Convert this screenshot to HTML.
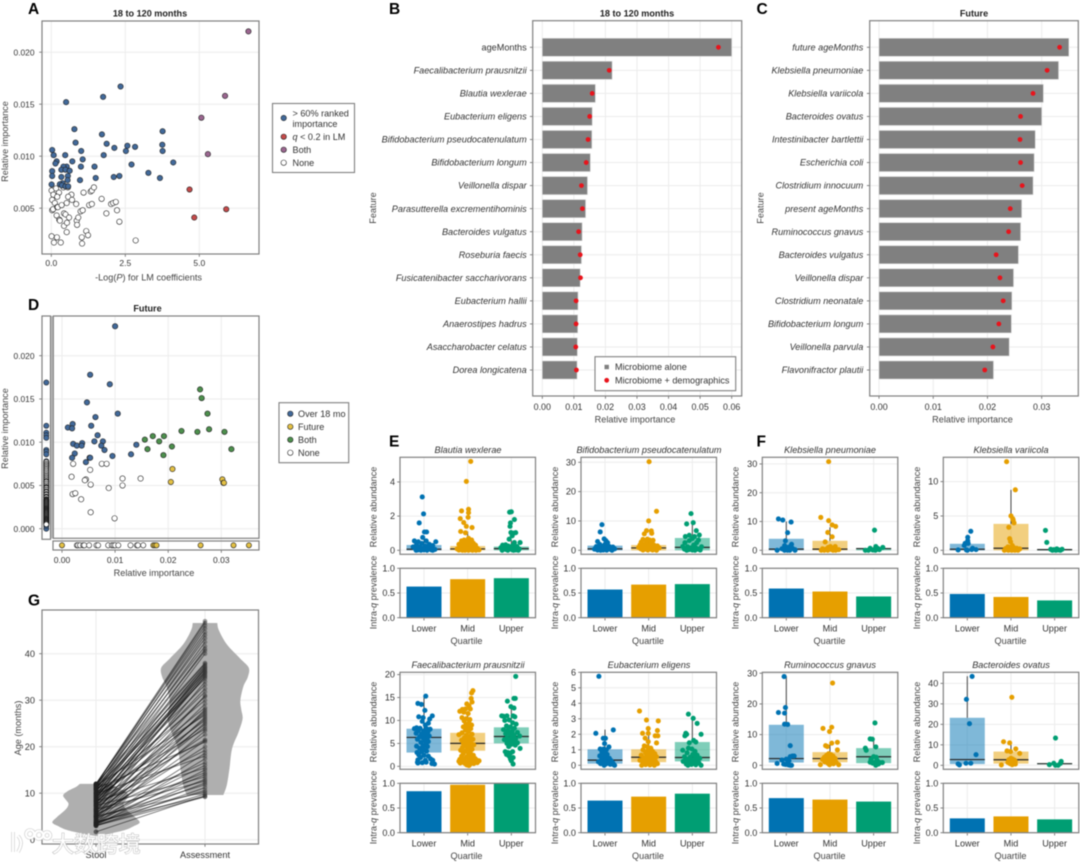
<!DOCTYPE html>
<html lang="en">
<head>
<meta charset="utf-8">
<title>Relative importance figure</title>
<style>
html,body{margin:0;padding:0;background:#fff;width:1080px;height:862px;overflow:hidden}
svg{display:block;filter:blur(.45px)}
text{font-family:"Liberation Sans","Noto Sans CJK SC",sans-serif;fill:#333;font-size:9.1px}
.ttl{font-weight:700;font-size:9.1px;text-anchor:middle;fill:#222}
.lab{text-anchor:middle;fill:#444;font-size:9.15px}
.sp{font-style:italic;font-size:9.15px;text-anchor:middle;fill:#333}
.let{font-weight:700;font-size:15.5px;fill:#000}
.leg{font-size:9.1px;fill:#333}
</style>
</head>
<body>
<svg id="figure" width="1080" height="862" viewBox="0 0 1080 862" xmlns="http://www.w3.org/2000/svg">
  <rect width="1080" height="862" fill="#fff"/>
  <g id="plot-a"></g>
  <g id="plot-b"></g>
  <g id="plot-c"></g>
  <g id="plot-d"></g>
  <g id="plot-g"></g>
  <g id="plot-ef"></g>

  <g>
    <text class="let" x="28" y="14">A</text>
    <text class="let" x="389" y="14">B</text>
    <text class="let" x="756.5" y="14">C</text>
    <text class="let" x="28" y="310">D</text>
    <text class="let" x="389" y="446.5">E</text>
    <text class="let" x="756.5" y="446.5">F</text>
    <text class="let" x="28" y="605.5">G</text>
  </g>

  <g>
    <text class="ttl" x="150" y="16.5">18 to 120 months</text>
    <text class="lab" x="148.5" y="280.5">-Log(<tspan font-style="italic">P</tspan>) for LM coefficients</text>
    <text class="lab" transform="translate(8,141.5) rotate(-90)">Relative importance</text>

    <text class="ttl" x="637" y="16.5">18 to 120 months</text>
    <text class="lab" x="635" y="422.5">Relative importance</text>
    <text class="lab" transform="translate(376,208) rotate(-90)">Feature</text>

    <text class="ttl" x="974" y="16.5">Future</text>
    <text class="lab" x="972.5" y="422.5">Relative importance</text>
    <text class="lab" transform="translate(763.5,208) rotate(-90)">Feature</text>

    <text class="ttl" x="147.5" y="311.5">Future</text>
    <text class="lab" x="154" y="576">Relative importance</text>
    <text class="lab" transform="translate(8,428.5) rotate(-90)">Relative importance</text>

    <text class="lab" transform="translate(21,728) rotate(-90)">Age (months)</text>

    <text class="sp" x="468" y="453">Blautia wexlerae</text>
    <text class="sp" x="649" y="453">Bifidobacterium pseudocatenulatum</text>
    <text class="sp" x="830" y="453">Klebsiella pneumoniae</text>
    <text class="sp" x="1011" y="453">Klebsiella variicola</text>
    <text class="sp" x="468" y="668">Faecalibacterium prausnitzii</text>
    <text class="sp" x="649" y="668">Eubacterium eligens</text>
    <text class="sp" x="830" y="668">Ruminococcus gnavus</text>
    <text class="sp" x="1011" y="668">Bacteroides ovatus</text>

    <text class="lab" transform="translate(376.5,507) rotate(-90)">Relative abundance</text>
    <text class="lab" transform="translate(558,507) rotate(-90)">Relative abundance</text>
    <text class="lab" transform="translate(738.5,507) rotate(-90)">Relative abundance</text>
    <text class="lab" transform="translate(920,507) rotate(-90)">Relative abundance</text>
    <text class="lab" transform="translate(376.5,722) rotate(-90)">Relative abundance</text>
    <text class="lab" transform="translate(558,722) rotate(-90)">Relative abundance</text>
    <text class="lab" transform="translate(738.5,722) rotate(-90)">Relative abundance</text>
    <text class="lab" transform="translate(920,722) rotate(-90)">Relative abundance</text>

    <text class="lab" transform="translate(376.5,592.5) rotate(-90)">Intra-<tspan font-style="italic">q</tspan> prevalence</text>
    <text class="lab" transform="translate(558,592.5) rotate(-90)">Intra-<tspan font-style="italic">q</tspan> prevalence</text>
    <text class="lab" transform="translate(738.5,592.5) rotate(-90)">Intra-<tspan font-style="italic">q</tspan> prevalence</text>
    <text class="lab" transform="translate(920,592.5) rotate(-90)">Intra-<tspan font-style="italic">q</tspan> prevalence</text>
    <text class="lab" transform="translate(376.5,807.5) rotate(-90)">Intra-<tspan font-style="italic">q</tspan> prevalence</text>
    <text class="lab" transform="translate(558,807.5) rotate(-90)">Intra-<tspan font-style="italic">q</tspan> prevalence</text>
    <text class="lab" transform="translate(738.5,807.5) rotate(-90)">Intra-<tspan font-style="italic">q</tspan> prevalence</text>
    <text class="lab" transform="translate(920,807.5) rotate(-90)">Intra-<tspan font-style="italic">q</tspan> prevalence</text>

    <text class="lab" x="466.5" y="644">Quartile</text>
    <text class="lab" x="648" y="644">Quartile</text>
    <text class="lab" x="829.5" y="644">Quartile</text>
    <text class="lab" x="1010.5" y="644">Quartile</text>
    <text class="lab" x="466.5" y="859">Quartile</text>
    <text class="lab" x="648" y="859">Quartile</text>
    <text class="lab" x="829.5" y="859">Quartile</text>
    <text class="lab" x="1010.5" y="859">Quartile</text>
  </g>

  <g>
    <rect x="272.5" y="103.5" width="82" height="69" fill="#fff" stroke="#808080" stroke-width="1.1"/>
    <circle cx="283.7" cy="118" r="2.7" fill="#41699a" stroke="#222" stroke-width=".6"/>
    <text class="leg" x="292.5" y="116.3">&gt; 60% ranked</text>
    <text class="leg" x="292.5" y="127">importance</text>
    <circle cx="283.7" cy="136.7" r="2.7" fill="#c44a4a" stroke="#222" stroke-width=".6"/>
    <text class="leg" x="292.5" y="139.8"><tspan font-style="italic">q</tspan> &lt; 0.2 in LM</text>
    <circle cx="283.7" cy="149.7" r="2.7" fill="#9b6690" stroke="#222" stroke-width=".6"/>
    <text class="leg" x="292.5" y="152.8">Both</text>
    <circle cx="283.7" cy="162.7" r="2.7" fill="#fff" stroke="#222" stroke-width=".6"/>
    <text class="leg" x="292.5" y="165.8">None</text>
  </g>

  <g>
    <rect x="595" y="356.7" width="140.7" height="34" fill="#fff" stroke="#808080" stroke-width="1.1"/>
    <rect x="604.5" y="364.8" width="4.4" height="4.4" fill="#808080"/>
    <text class="leg" x="615" y="370">Microbiome alone</text>
    <circle cx="606.7" cy="380.3" r="2.4" fill="#e8141c"/>
    <text class="leg" x="615" y="383.4">Microbiome + demographics</text>
  </g>

  <g>
    <rect x="279" y="402.7" width="69.7" height="60" fill="#fff" stroke="#808080" stroke-width="1.1"/>
    <circle cx="290.3" cy="413.7" r="2.7" fill="#41699a" stroke="#222" stroke-width=".6"/>
    <text class="leg" x="298" y="416.8">Over 18 mo</text>
    <circle cx="290.3" cy="426.7" r="2.7" fill="#e3c044" stroke="#222" stroke-width=".6"/>
    <text class="leg" x="298" y="429.8">Future</text>
    <circle cx="290.3" cy="439.7" r="2.7" fill="#4c8f4c" stroke="#222" stroke-width=".6"/>
    <text class="leg" x="298" y="442.8">Both</text>
    <circle cx="290.3" cy="452.7" r="2.7" fill="#fff" stroke="#222" stroke-width=".6"/>
    <text class="leg" x="298" y="455.8">None</text>
  </g>

  <g>
    <path d="M13 832 L13 852 M18 836 Q24 842 18 852 M30 830 a4 4 0 1 0 .1 0 M39 831 a4 4 0 1 0 .1 0 M47 832 a3.4 3.4 0 1 0 .1 0" fill="none" stroke="#c4c4c4" stroke-width="3.6" opacity=".8"/>
    <path d="M13 832 L13 852 M18 836 Q24 842 18 852 M30 830 a4 4 0 1 0 .1 0 M39 831 a4 4 0 1 0 .1 0 M47 832 a3.4 3.4 0 1 0 .1 0" fill="none" stroke="#fff" stroke-width="2.2"/>
    <text x="52" y="852" style="font-family:'Liberation Sans','Noto Sans CJK SC',sans-serif;font-size:22px;fill:#fff;stroke:#c0c0c0;stroke-width:1.1px;paint-order:stroke;letter-spacing:.2px">大数跨境</text>
  </g>
</svg>

<script>
/* ---------- Panel A data: [-log(P), relative importance] ---------- */
const aRanked = [[.03,.0106],[.08,.0101],[.18,.0095],[.14,.0093],[.03,.00856],[.03,.0081],[.01,.00728],[.5,.0152],[1.75,.0157],[2.34,.0167],[.78,.0126],[.82,.0113],[1.71,.0121],[1.87,.0112],[2.13,.0108],[2.57,.011],[2.52,.0105],[2.83,.0109],[1.77,.0101],[1.01,.0105],[1.06,.0097],[.47,.0101],[1,.009],[1.46,.009],[.71,.0095],[.52,.009],[.41,.009],[.34,.0087],[.48,.0087],[.62,.0086],[.56,.0081],[.34,.008],[.97,.0077],[1.5,.0079],[2.11,.008],[2.3,.0081],[2.71,.0092],[3.28,.0084],[3.67,.0079],[4.12,.0094],[3.76,.0124],[3.75,.0111],[3.76,.0105],[.55,.0077],[.38,.0074],[.29,.0073],[.36,.0072],[.48,.0071],[.57,.0071]];
const aLm = [[4.67,.0068],[4.83,.0041],[5.91,.0049]];
const aBoth = [[6.66,.022],[5.87,.0158],[5.07,.0137],[5.29,.0102]];
const aNone = [[.01,.0067],[.16,.0069],[.26,.0065],[.07,.0063],[.03,.0058],[.2,.0061],[.12,.0055],[.03,.0048],[.06,.0049],[.2,.0051],[.22,.0051],[.18,.0043],[.27,.0039],[.29,.0038],[.35,.0053],[.43,.0045],[.48,.0044],[.6,.0041],[.43,.0033],[.53,.0036],[.52,.0027],[.01,.0023],[.19,.0022],[.09,.0017],[.32,.0017],[1.03,.0022],[1.04,.0016],[1.18,.0028],[1.24,.0024],[.86,.0038],[.87,.0034],[.91,.0041],[.99,.0047],[1.06,.0048],[.84,.0054],[.68,.0063],[.57,.0061],[.7,.0058],[.52,.0055],[1.09,.0065],[1.33,.0066],[1.37,.0067],[1.44,.007],[1.28,.0053],[1.37,.0054],[1.7,.0059],[1.86,.0045],[2.02,.0054],[2.09,.0055],[2.18,.0056],[2.22,.0048],[2.3,.0037],[2.85,.0019],[.56,.007],[.41,.007]];
const aXTicks = [0,2.5,5];
const aXLabels = ["0.0","2.5","5.0"];
const aYTicks = [.005,.01,.015,.02];
const aYLabels = ["0.005","0.010","0.015","0.020"];

/* ---------- Panel B data ---------- */
const bFeatures = ["ageMonths","Faecalibacterium prausnitzii","Blautia wexlerae","Eubacterium eligens","Bifidobacterium pseudocatenulatum","Bifidobacterium longum","Veillonella dispar","Parasutterella excrementihominis","Bacteroides vulgatus","Roseburia faecis","Fusicatenibacter saccharivorans","Eubacterium hallii","Anaerostipes hadrus","Asaccharobacter celatus","Dorea longicatena"];
const bAlone = [.06,.0221,.0168,.0158,.0157,.0152,.0143,.0137,.0126,.0124,.012,.0113,.0112,.0111,.011];
const bDemo = [.0558,.0212,.0158,.015,.0145,.0139,.0124,.0127,.0115,.012,.0121,.0107,.0107,.0106,.0108];
const bXTicks = [0,.01,.02,.03,.04,.05,.06];
const bXLabels = ["0.00","0.01","0.02","0.03","0.04","0.05","0.06"];

/* ---------- Panel C data ---------- */
const cFeatures = ["future ageMonths","Klebsiella pneumoniae","Klebsiella variicola","Bacteroides ovatus","Intestinibacter bartlettii","Escherichia coli","Clostridium innocuum","present ageMonths","Ruminococcus gnavus","Bacteroides vulgatus","Veillonella dispar","Clostridium neonatale","Bifidobacterium longum","Veillonella parvula","Flavonifractor plautii"];
const cAlone = [.035,.0331,.0303,.03,.0288,.0286,.0284,.0263,.0261,.0257,.0248,.0245,.0244,.024,.0211];
const cDemo = [.0333,.031,.0284,.0261,.026,.0261,.0264,.0242,.0239,.0216,.0223,.0229,.0221,.021,.0195];
const cXTicks = [0,.01,.02,.03];
const cXLabels = ["0.00","0.01","0.02","0.03"];

/* ---------- Panel D data: [future importance, present importance] ---------- */
const dOver = [[.01,.0234],[.0053,.0178],[.009,.0167],[.0047,.0146],[.0105,.0133],[.0063,.0129],[.0055,.0119],[.002,.0121],[.0011,.0117],[.0019,.0116],[.0067,.0108],[.0061,.0101],[.0077,.0101],[.0038,.0099],[.0021,.0098],[.0028,.0096],[.0037,.0096],[.0074,.0096],[.008,.0091],[.014,.0097],[.0024,.0087],[.0019,.0082],[.0095,.0084],[.013,.0086],[.0052,.0082],[.0053,.0082],[.0045,.0077]];
const dBoth = [[.026,.0161],[.0263,.0151],[.0274,.0133],[.0277,.0115],[.0255,.0112],[.0225,.0113],[.0306,.0112],[.0171,.0107],[.0192,.0107],[.0156,.0103],[.0183,.0101],[.0161,.0092],[.0207,.0095],[.0191,.0085],[.0319,.0092]];
const dFuture = [[.0208,.0069],[.0205,.0054],[.0302,.0057],[.0304,.0053],[.0305,.0053]];
const dNone = [[.0021,.0075],[.0075,.0075],[.0084,.0075],[.0053,.0068],[.0018,.006],[.0045,.0057],[.0043,.0056],[.0114,.0058],[.0148,.0058],[.0054,.0051],[.0114,.005],[.0088,.0047],[.002,.004],[.0025,.0041],[.0036,.0034],[.0054,.0019],[.0099,.0012]];
const dStripYOver = [.0169,.0119,.0111,.0108,.0105,.0091,.0089,.0086,.0078,.0076,.0074,.0072,.0,.0003];
const dStripYNone = [.0077,.0075,.0073,.0071,.0069,.0067,.0065,.0063,.0061,.0059,.0057,.0055,.0054,.0052,.005,.0048,.0047,.0045,.0043,.0042,.004,.0039,.0037,.0036,.0034,.0033,.0032,.0031,.003,.0029,.0028,.0027,.0026,.0025,.0024,.0023,.0022,.0021,.002,.0019,.0018,.0017,.0016,.0015,.0014,.0013,.0012,.0011,.001,.0009,.0008,.0007,.0006,.0005];
const dStripXFuture = [0,.0172,.0175,.0178,.0261,.0323,.0352];
const dStripXNone = [.0028,.003,.0034,.004,.0042,.0051,.0065,.0068,.0087,.0094,.0097,.01,.0106,.0129,.0141,.0143,.0153];
const dXTicks = [0,.01,.02,.03];
const dXLabels = ["0.00","0.01","0.02","0.03"];
const dYTicks = [0,.005,.01,.015,.02];
const dYLabels = ["0.000","0.005","0.010","0.015","0.020"];

/* ---------- Panel G data ---------- */
const stoolViolinAge = [12,11.4,10.6,9.6,8.7,7.8,6.9,6,4.8,3.7,2.9,2.1,1.4,1,.8];
const stoolViolinDensity = [.37,.45,.62,.75,.7,.63,.66,.75,.9,1,.86,.67,.37,.14,.02];
const assessViolinAge = [46.6,45,42,39,37,35,33,30,28,26,23.2,19.6,15.3,11.8,9.6];
const assessViolinDensity = [.28,.32,.5,.8,1,.98,.88,.81,.83,.86,.77,.62,.56,.5,.42];
const stoolAge = [12,11.8,11.9,11.3,12,10.8,11.5,10.2,11.7,9.5,10.9,8.8,12,11.4,9.8,10.6,7.6,11,9,8.2,10.4,6.8,9.4,7.2,8.5,11.2,6,10,7.9,9.2,5.4,8,10.7,6.4,9.6,5,7.4,8.7,11.6,4.6,6.6,9.1,4.2,7,5.7,10.1,3.8,6.2,8.4,4.9,11,5.2,7.7,3.6,9.9,3.4,6,4.4,8.3,3.2,5.6,4.1,7.3,3.5,6.5,3.3,4.8,3,3.7,5.1,3.1,1.7,3.9,3];
const assessAge = [47,46.6,46,45.4,44.6,44,43.3,42.5,41.6,41,40.6,40,38,37.8,37.5,37.2,37,36.7,36.5,36.2,36,35.8,35.5,35.2,35,34.6,34,33.3,32.5,31.8,31,30.8,30,29.2,28.4,28,27.6,27.2,26.8,26.4,26,25.6,25.2,24.8,24.3,23.8,23.4,22.6,21.5,21.3,21,20,19.2,18.6,18,17.4,16.6,16,15.4,15,14.4,14,13.5,13,12.6,12.2,11.8,11.2,10.6,10.2,9.8,9.5,9.3,9.2];
const gYTicks = [0,10,20,30,40];
const gXLabels = ["Stool","Assessment"];

/* ---------- Panels E/F data: points are [jitter, abundance] ---------- */
const categories = ["Lower","Mid","Upper"];

const blautiaLower = [[-.04,3.12],[-.01,2.13],[-.11,1.6],[.01,1.07],[.06,1.07],[-.03,.75],[-.22,.55],[-.13,.5],[.05,.55],[.27,.5],[-.17,.35],[-.05,.4],[.12,.35],[.2,.28],[-.25,.2],[-.1,.2],[.03,.25],[.15,.15],[-.2,.1],[-.03,.1],[.09,.08],[.25,.05],[-.14,.02],[0,.02],[.17,.02],[-.07,0],[.07,0],[.2,0],[-.18,0]];
const blautiaMid = [[.07,5.2],[-.03,4.03],[-.14,2.3],[.02,2.4],[.02,2.2],[.01,1.93],[-.17,1.85],[-.09,1.62],[-.03,1.4],[.1,1.33],[-.16,1.1],[-.05,1.02],[.02,.7],[-.08,.6],[.09,.6],[-.14,.55],[.04,.5],[-.02,.45],[.13,.42],[-.2,.35],[-.1,.33],[.07,.3],[.18,.3],[-.05,.25],[.02,.22],[.12,.2],[-.16,.18],[-.08,.15],[.22,.12],[.05,.12],[-.24,.08],[-.02,.08],[.15,.06],[-.13,.04],[.08,.04],[.26,.02],[-.2,.01],[-.06,0],[.02,0],[.11,0],[.19,0],[-.12,0]];
const blautiaUpper = [[-.04,2.23],[.0,2.25],[-.02,1.6],[.07,1.8],[-.03,1.4],[-.01,1.04],[.05,1.0],[.1,1.03],[.02,.85],[-.05,.65],[.07,.45],[.2,.45],[-.2,.3],[-.13,.32],[-.07,.25],[.03,.28],[.13,.22],[-.24,.15],[-.16,.12],[-.03,.1],[.09,.1],[.18,.08],[-.12,.04],[.02,.03],[.1,.02],[-.21,0],[-.08,0],[.05,0],[.16,0]];

const bifidoLower = [[-.07,8.75],[-.11,6.25],[-.17,3],[-.02,3.9],[.02,3.3],[.06,2.6],[-.12,2],[.0,2],[-.2,1.3],[-.06,1.4],[.1,1.3],[.18,1.1],[-.14,.8],[-.02,.9],[.06,.7],[.22,.5],[-.24,.4],[-.09,.4],[.13,.3],[-.17,.1],[-.04,.1],[.04,.05],[.16,0],[-.1,0]];
const bifidoMid = [[.01,30.2],[.18,13.3],[0,10],[-.05,6.7],[.06,6.6],[-.1,5.6],[.07,5.8],[-.13,3.7],[-.03,3.8],[.02,3.5],[.1,3.4],[-.17,2.8],[-.06,2.5],[.05,2.4],[-.2,1.8],[-.1,1.7],[.12,1.8],[.2,1.5],[.0,1.6],[-.23,1],[-.14,1],[-.04,1],[.07,.9],[.24,.8],[-.18,.5],[-.08,.4],[.03,.4],[.14,.4],[-.13,.1],[-.02,.1],[.09,.1],[.18,0]];
const bifidoUpper = [[-.03,12.5],[-.13,9],[.02,9.4],[.09,6.7],[-.07,5.1],[.05,4.7],[.16,5.2],[-.16,4.7],[.14,3.5],[-.17,2.6],[0,4],[-.07,3.3],[.1,2.6],[.03,1.8],[-.22,1.3],[-.11,1.2],[.21,1.2],[.07,1],[-.04,.8],[-.18,.4],[.13,.4],[-.08,.2],[.0,.1],[.18,.1],[-.13,0],[.06,0]];

const kpLower = [[-.18,10.9],[-.08,10.5],[.11,9.8],[.03,6.1],[-.02,3.3],[.12,2.1],[-.04,1.6],[.08,1.2],[.02,1],[.14,.7],[-.1,.5],[.2,.2],[-.21,0],[-.04,0],[.03,0],[.08,0],[.2,0]];
const kpMid = [[-.03,30.8],[-.21,11.4],[-.03,10.3],[.05,8.8],[.13,8.3],[-.05,6.2],[.05,4.7],[-.11,2.9],[.12,1.3],[.01,1.3],[-.04,1],[.09,.8],[-.17,.5],[-.09,.4],[.03,.3],[.2,.2],[-.2,0],[-.13,0],[-.05,0],[.07,0],[.13,0]];
const kpUpper = [[.02,7],[.05,1.3],[.21,1],[-.08,.7],[.1,.6],[-.19,0],[-.02,.1],[.13,.2],[-.12,0],[.04,0]];

const kvLower = [[.08,2.77],[.01,1.9],[.01,1.4],[-.05,1],[.02,1],[-.07,.7],[.12,.3],[-.21,.05],[-.02,.05],[.1,.1],[.2,.1],[.0,0]];
const kvMid = [[-.1,12.9],[.1,8.8],[0,5],[.04,4.6],[.05,4.4],[.07,4],[-.05,3.35],[-.03,1.7],[-.01,1.25],[.03,.7],[-.07,.5],[.06,.4],[-.12,.25],[.13,.3],[.2,.2],[-.03,.1],[.1,.1],[-.15,0],[-.06,0],[.02,0],[.09,0],[.16,0]];
const kvUpper = [[-.21,2.9],[-.18,1.15],[-.09,.15],[.05,.2],[.17,.15],[-.02,.1],[.09,.05],[-.05,0],[.03,0],[.13,0]];

const faecaliLower = [[.04,15.3],[-.14,13.7],[-.06,13.5],[.02,12.2],[.19,11],[-.12,10.8],[-.02,10.6],[.13,10.3],[-.04,9.8],[.1,9.4],[.03,9],[-.17,8.4],[-.22,8.2],[-.09,8.3],[.05,8.3],[.14,8.1],[-.13,7.8],[-.01,7.7],[.09,7.5],[-.18,7.2],[-.06,7],[.04,6.9],[.12,6.6],[-.1,6.4],[-.02,6.2],[.07,6],[-.15,5.9],[.02,5.6],[.1,5.4],[-.07,5.2],[-.17,4.4],[.05,4.9],[-.02,4.5],[.08,4.3],[-.1,3.9],[0,3.6],[-.05,3.2],[.06,3.3],[-.16,3],[-.12,2.5],[0,2.4],[.1,2.2],[-.08,1.9],[-.14,1.4],[.15,1.6],[.03,1.3],[.2,1.3],[-.15,.9],[.05,.9],[-.04,.8],[-.14,.7],[.18,.6],[.24,.5]];
const faecaliMid = [[.12,16.5],[.09,16],[.08,14.8],[.1,14],[-.02,13.6],[.03,13.2],[-.12,12.4],[-.05,12.5],[.06,12.5],[-.18,12],[-.09,11.8],[.01,11.5],[-.13,10.6],[-.03,10.4],[.05,10.2],[-.08,9.9],[.03,9.5],[-.04,9.1],[.09,9],[-.1,8.6],[0,8.5],[.07,8.2],[-.05,7.9],[.02,7.6],[-.13,7.3],[-.2,6.9],[.1,7],[-.03,6.8],[.05,6.5],[-.08,6.2],[.01,6],[.12,5.9],[-.14,5.7],[-.04,5.5],[.07,5.3],[-.1,5],[.02,4.8],[.14,4.7],[-.06,4.5],[.05,4.3],[-.12,4.1],[0,3.9],[.1,3.7],[-.16,3.5],[-.05,3.3],[.06,3.1],[-.1,2.8],[.02,2.6],[.13,2.4],[-.14,2.2],[-.03,2],[.08,1.9],[.17,1.7],[-.18,1.5],[-.08,1.4],[.04,1.3],[.2,1.4],[.26,1.2],[-.2,1.1],[-.12,.9],[-.02,.9],[.1,1],[.22,.8],[-.17,.7],[-.06,.6],[.06,.5],[.14,.6],[-.02,.3],[.03,.15]];
const faecaliUpper = [[.1,19.6],[-.09,14.2],[.06,14.8],[.09,14.8],[-.01,13],[.06,12.7],[-.22,11],[-.18,10.9],[-.1,11],[.04,11],[.08,10.8],[-.15,10],[-.05,10.1],[.03,9.5],[.11,9.2],[-.11,8.8],[-.02,8.6],[.07,8.3],[-.18,8],[-.08,7.8],[.02,7.6],[.14,7.4],[-.13,7.1],[-.03,7],[.06,6.8],[.19,6.6],[-.1,6.2],[0,6.1],[.1,6],[-.16,5.8],[-.05,5.6],[.05,5.4],[.14,5.1],[-.1,5],[0,4.8],[.09,4.6],[-.06,4.3],[.2,3.9],[-.14,3.2],[-.08,3],[-.02,2.9],[.03,3.2],[-.11,2.6],[-.05,2.2],[.04,1.9],[-.02,1.6],[0,1.2],[.04,.5]];

const eubLower = [[-.14,5.74],[.19,2.28],[-.21,2.06],[-.04,1.74],[.01,1.74],[-.01,1.4],[-.11,1.05],[-.03,1.05],[.09,1.18],[.03,1],[-.07,.85],[-.02,.75],[.05,.7],[-.12,.6],[.03,.55],[-.05,.48],[.1,.45],[-.08,.35],[.0,.32],[.14,.3],[-.15,.22],[-.04,.2],[.07,.18],[.18,.15],[-.1,.1],[.02,.08],[.12,.06],[.2,.04],[-.02,0],[.22,0]];
const eubMid = [[-.21,3.5],[-.05,2.92],[.22,2.86],[-.01,2.37],[.2,2.24],[-.14,2.06],[-.01,2.06],[.15,1.9],[.21,1.9],[.18,1.44],[-.08,1.75],[-.01,1.52],[-.1,1.25],[-.03,1.2],[.05,1.1],[-.13,1],[-.02,.95],[.09,.9],[-.07,.8],[.02,.78],[.14,.75],[-.17,.65],[-.04,.62],[.07,.58],[.18,.55],[-.11,.48],[.0,.45],[.1,.42],[-.2,.32],[-.06,.3],[.05,.28],[.16,.25],[-.13,.18],[-.02,.15],[.09,.12],[.2,.1],[-.07,.04],[.03,.02],[.13,0],[-.16,0]];
const eubUpper = [[-.09,3.3],[.02,3.03],[.11,2.7],[-.15,2.06],[-.17,1.9],[-.13,2],[.2,2],[.03,1.6],[-.07,1.45],[.08,1.5],[-.22,.97],[-.09,1.1],[-.01,1.05],[.06,.9],[-.12,.8],[.01,.7],[.11,.65],[-.18,.55],[-.05,.52],[.07,.48],[.17,.45],[-.13,.38],[-.01,.35],[.1,.32],[-.21,.25],[-.08,.22],[.04,.18],[.15,.15],[-.14,.08],[-.02,.05],[.08,.03],[.2,0],[-.1,0]];

const rgLower = [[-.05,28.9],[-.02,18.8],[-.18,17.2],[-.04,17],[-.04,13.4],[.03,13.3],[.09,6.4],[.14,3],[.18,3],[.09,2.8],[-.1,1.7],[0,2],[.06,1.5],[.04,1],[-.21,.6],[-.02,.3],[.09,0],[.05,.1],[.12,0],[-.06,.4]];
const rgMid = [[.06,26.8],[-.16,12],[.04,12.4],[-.01,11],[.17,7.5],[.04,7.2],[-.1,6.4],[-.06,6.1],[.17,5],[-.03,3.8],[.02,3.5],[-.08,3.2],[.07,3],[-.13,2.6],[-.03,2.5],[.04,2.3],[.12,2.2],[-.17,1.9],[-.07,1.7],[.0,1.6],[.09,1.5],[-.12,1.1],[.03,1],[.14,1],[-.05,.7],[.08,.5],[-.22,.2],[-.01,.2],[.2,.2]];
const rgUpper = [[.03,13.8],[-.08,8.6],[-.03,8.5],[.05,6],[-.19,5.6],[-.17,4.9],[0,2.8],[.06,2.6],[-.06,2],[.08,1.6],[-.08,1],[.03,1],[.14,.9],[.2,.9],[-.02,.7],[.11,.4],[.05,0]];

const boLower = [[.11,43.4],[-.02,32.2],[.05,20.3],[.2,5.2],[-.21,.7],[-.18,.2],[-.03,1],[.08,1]];
const boMid = [[.02,33.2],[-.17,11.5],[-.03,10.9],[.11,8],[-.09,7],[-.01,6.7],[.2,5.8],[-.22,.2],[0,3.4],[.04,3],[-.05,2.7],[.08,2.5],[-.03,2.2],[.1,1.9],[.02,1.7],[-.07,1.4],[.06,1.1],[-.02,.8],[.1,.6],[.03,.3]];
const boUpper = [[.02,13.3],[.15,1.9],[-.02,1],[-.12,.3],[.02,0],[.08,0],[.13,.9]];

const blautiaBox = [[0,.06,.31,.75],[0,.08,.25,1.1],[0,.1,.22,.6]];
const bifidoBox = [[0,.5,1.6,3.8],[0,.8,1.8,3.6],[0,1,4.2,9.5]];
const kpBox = [[0,.4,4,10],[0,.4,3.3,8],[0,.6,.7,1.2]];
const kvBox = [[0,.15,.95,2],[0,.3,3.85,8.8],[0,.1,.15,.3]];
const faecaliBox = [[3,6.3,8.2,15],[3.4,5,7.3,12],[5,6.5,8.5,13.5]];
const eubBox = [[.1,.33,1.03,2.3],[.2,.52,1.03,2],[.25,.5,1.5,3]];
const rgBox = [[.9,2.2,13.2,29],[1,2.2,4.3,7.5],[.7,2.8,5.6,8.5]];
const boBox = [[.6,2.8,23.2,43.5],[.8,2.7,6.7,10],[.5,.8,1,1.5]];

const blautiaPrev = [.63,.78,.8];
const bifidoPrev = [.57,.67,.68];
const kpPrev = [.59,.53,.43];
const kvPrev = [.48,.42,.35];
const faecaliPrev = [.84,.97,1];
const eubPrev = [.65,.73,.79];
const rgPrev = [.7,.67,.63];
const boPrev = [.29,.33,.27];

const blautiaTicks = [0,2,4];
const bifidoTicks = [0,10,20,30];
const kpTicks = [0,10,20,30];
const kvTicks = [0,5,10];
const faecaliTicks = [0,5,10,15,20];
const eubTicks = [0,1,2,3,4,5,6];
const rgTicks = [0,10,20,30];
const boTicks = [0,10,20,30,40];
const prevTicks = [0,.5,1];
const prevLabels = ["0.0","0.5","1.0"];

/* ---------- Helpers ---------- */
const NS = "http://www.w3.org/2000/svg";
function el(parent, tag, attrs, name, txt) {
  const e = document.createElementNS(NS, tag);
  for (const k in attrs) e.setAttribute(k, attrs[k]);
  
  
  if (txt !== undefined) e.textContent = txt;
  parent.appendChild(e);
  return e;
}
function scale(a, b, pa, pb) { return v => pa + (v - a) * (pb - pa) / (b - a); }
const GRID = "#ececec", BORDER = "#808080", TICK = "#666", TXT = "#333";

function xAxis(g, xs, ticks, labels, y0, y1, labelY, prefix, size) {
  ticks.forEach((t, i) => {
    const x = xs(t);
    el(g, 'line', {x1:x, x2:x, y1:y0, y2:y1, stroke:GRID, 'stroke-width':1}, prefix + '-x-grid');
    el(g, 'line', {x1:x, x2:x, y1:y1, y2:y1 + 2.8, stroke:TICK, 'stroke-width':.8}, prefix + '-x-tick');
    el(g, 'text', {x:x, y:labelY, 'text-anchor':'middle', style:'font-size:' + size + 'px;fill:' + TXT}, prefix + '-x-tick-label', labels[i]);
  });
}
function yAxis(g, ys, ticks, labels, x0, x1, labelX, prefix, grid, size) {
  ticks.forEach((t, i) => {
    const y = ys(t);
    if (grid !== false) el(g, 'line', {x1:x0, x2:x1, y1:y, y2:y, stroke:GRID, 'stroke-width':1}, prefix + '-y-grid');
    el(g, 'line', {x1:x0 - 2.8, x2:x0, y1:y, y2:y, stroke:TICK, 'stroke-width':.8}, prefix + '-y-tick');
    el(g, 'text', {x:labelX, y:y + 3.1, 'text-anchor':'end', style:'font-size:' + size + 'px;fill:' + TXT}, prefix + '-y-tick-label', labels[i]);
  });
}
function border(g, x0, y0, x1, y1, name) {
  el(g, 'rect', {x:x0, y:y0, width:x1 - x0, height:y1 - y0, fill:'none', stroke:BORDER, 'stroke-width':1.2}, name);
}
function scatter(g, pts, xs, ys, fill, name) {
  pts.forEach(p => {
    el(g, 'circle', {cx:xs(p[0]), cy:ys(p[1]), r:2.7, fill:fill, stroke:'#222', 'stroke-width':.6}, name);
  });
}

/* ---------- Panel A ---------- */
(function () {
  const g = document.getElementById('plot-a');
  const xs = scale(0, 5, 51.3, 199.3), ys = scale(.005, .02, 208.2, 52.2);
  xAxis(g, xs, aXTicks, aXLabels, 21, 254, 266, 'a', 8.5);
  yAxis(g, ys, aYTicks, aYLabels, 42, 259, 34.5, 'a', true, 8.4);
  scatter(g, aNone, xs, ys, '#fff', 'a-point-none');
  scatter(g, aRanked, xs, ys, '#41699a', 'a-point-ranked');
  scatter(g, aLm, xs, ys, '#c44a4a', 'a-point-lm');
  scatter(g, aBoth, xs, ys, '#9b6690', 'a-point-both');
  border(g, 42, 21, 259, 254, 'a-frame');
})();

/* ---------- Panels B, C ---------- */
function hbars(id, prefix, x0, x1, xs, ticks, tickLabels, feats, alone, demo, labelRight) {
  const g = document.getElementById(id);
  const y0 = 20.7, y1 = 396;
  const ys = i => 47.3 + i * 23.05;
  xAxis(g, xs, ticks, tickLabels, y0, y1, 410, prefix, 8.9);
  feats.forEach((f, i) => {
    const y = ys(i);
    el(g, 'line', {x1:x0, x2:x1, y1:y, y2:y, stroke:GRID, 'stroke-width':1}, prefix + '-y-grid');
    el(g, 'line', {x1:x0 - 2.8, x2:x0, y1:y, y2:y, stroke:TICK, 'stroke-width':.8}, prefix + '-y-tick');
    const plain = f === 'ageMonths';
    el(g, 'text', {x:labelRight, y:y + 3.1, 'text-anchor':'end', 'font-style':plain ? 'normal' : 'italic', style:'font-size:9.15px;fill:' + TXT}, prefix + '-feature-label', f);
  });
  alone.forEach((v, i) => {
    el(g, 'rect', {x:xs(0), y:ys(i) - 9, width:xs(v) - xs(0), height:18, fill:'#808080', stroke:'#d4d4d4', 'stroke-width':.6}, prefix + '-bar-alone');
  });
  demo.forEach((v, i) => {
    el(g, 'circle', {cx:xs(v), cy:ys(i), r:2.4, fill:'#e8141c'}, prefix + '-point-demographics');
  });
  border(g, x0, y0, x1, y1, prefix + '-frame');
}
hbars('plot-b', 'b', 532.7, 741.7, scale(0, .06, 542.3, 731.7), bXTicks, bXLabels, bFeatures, bAlone, bDemo, 526.7);
hbars('plot-c', 'c', 869.7, 1078.3, scale(0, .03, 879, 1041.7), cXTicks, cXLabels, cFeatures, cAlone, cDemo, 863.3);

/* ---------- Panel D ---------- */
(function () {
  const g = document.getElementById('plot-d');
  const xs = scale(0, .03, 62, 221.3), ys = scale(0, .02, 528.7, 355.7);
  xAxis(g, xs, dXTicks, dXLabels, 316, 550, 563, 'd', 8.5);
  yAxis(g, ys, dYTicks, dYLabels, 42, 42, 34.5, 'd', false, 8.4);
  dYTicks.forEach(t => {
    el(g, 'line', {x1:42, x2:259, y1:ys(t), y2:ys(t), stroke:GRID, 'stroke-width':1}, 'd-y-grid');
  });
  el(g, 'rect', {x:50.5, y:316, width:3, height:222.5, fill:'#bdbdbd'}, 'd-marginal-separator');
  scatter(g, dNone, xs, ys, '#fff', 'd-point-none');
  scatter(g, dOver, xs, ys, '#41699a', 'd-point-over-18');
  scatter(g, dBoth, xs, ys, '#4c8f4c', 'd-point-both');
  scatter(g, dFuture, xs, ys, '#e3c044', 'd-point-future');
  const stripX = 46.3, stripY = 545.3;
  dStripYOver.forEach(v => {
    el(g, 'circle', {cx:stripX, cy:ys(v), r:2.6, fill:'#41699a', stroke:'#222', 'stroke-width':.6}, 'd-left-strip-over-18');
  });
  dStripYNone.forEach(v => {
    el(g, 'circle', {cx:stripX, cy:ys(v), r:2.6, fill:'#fff', stroke:'#111', 'stroke-width':.8}, 'd-left-strip-none');
  });
  dStripXNone.forEach(v => {
    el(g, 'circle', {cx:xs(v), cy:stripY, r:2.6, fill:'#fff', stroke:'#222', 'stroke-width':.6}, 'd-bottom-strip-none');
  });
  dStripXFuture.forEach(v => {
    el(g, 'circle', {cx:xs(v), cy:stripY, r:2.6, fill:'#e3c044', stroke:'#222', 'stroke-width':.6}, 'd-bottom-strip-future');
  });
  border(g, 53.3, 316, 259, 538.3, 'd-frame');
  border(g, 42, 316, 50.5, 539.3, 'd-left-strip-frame');
  border(g, 53, 541, 259, 550, 'd-bottom-strip-frame');
})();

/* ---------- Panel G ---------- */
(function () {
  const g = document.getElementById('plot-g');
  const ys = scale(0, 40, 839.7, 653.7);
  const xStool = 96, xAssess = 205;
  yAxis(g, ys, gYTicks, gYTicks.map(String), 42, 258.5, 35, 'g', true, 9.2);
  [xStool, xAssess].forEach((x, i) => {
    el(g, 'line', {x1:x, x2:x, y1:610, y2:844, stroke:GRID, 'stroke-width':1}, 'g-x-grid');
    el(g, 'line', {x1:x, x2:x, y1:844, y2:846.8, stroke:TICK, 'stroke-width':.8}, 'g-x-tick');
    el(g, 'text', {x:x, y:858, 'text-anchor':'middle', style:'font-size:9.2px;fill:' + TXT}, 'g-x-tick-label', gXLabels[i]);
  });
  function smoothSide(pts) {
    let d = '';
    for (let i = 0; i < pts.length - 1; i++) {
      const p0 = pts[Math.max(0, i - 1)], p1 = pts[i], p2 = pts[i + 1], p3 = pts[Math.min(pts.length - 1, i + 2)];
      const c1x = p1[0] + (p2[0] - p0[0]) / 6, c1y = p1[1] + (p2[1] - p0[1]) / 6;
      const c2x = p2[0] - (p3[0] - p1[0]) / 6, c2y = p2[1] - (p3[1] - p1[1]) / 6;
      d += 'C' + c1x + ' ' + c1y + ' ' + c2x + ' ' + c2y + ' ' + p2[0] + ' ' + p2[1];
    }
    return d;
  }
  function violin(cx, ages, dens, name) {
    const w = 43.7;
    const right = ages.map((a, i) => [cx + dens[i] * w, ys(a)]);
    const left = ages.map((a, i) => [cx - dens[i] * w, ys(a)]).reverse();
    const d = 'M' + right[0][0] + ' ' + right[0][1] + smoothSide(right) + 'L' + left[0][0] + ' ' + left[0][1] + smoothSide(left) + 'Z';
    el(g, 'path', {d:d, fill:'#afafaf'}, name);
  }
  violin(xStool, stoolViolinAge, stoolViolinDensity, 'g-violin-stool');
  violin(xAssess, assessViolinAge, assessViolinDensity, 'g-violin-assessment');
  stoolAge.forEach((a, i) => {
    el(g, 'line', {x1:xStool, y1:ys(a), x2:xAssess, y2:ys(assessAge[i]), stroke:'#000', 'stroke-opacity':.52, 'stroke-width':.95}, 'g-paired-line');
  });
  stoolAge.forEach(a => {
    el(g, 'circle', {cx:xStool, cy:ys(a), r:2.4, fill:'#222', 'fill-opacity':.6}, 'g-stool-point');
  });
  assessAge.forEach(a => {
    el(g, 'circle', {cx:xAssess, cy:ys(a), r:2.3, fill:'#333', 'fill-opacity':.45}, 'g-assessment-point');
  });
  border(g, 42, 610, 258.5, 844, 'g-frame');
})();

/* ---------- Panels E, F ---------- */
const COLORS = ["#0072B2", "#E69F00", "#009E73"];
function abundancePanel(prefix, left, top, yMin, yMax, ticks, groups, boxes, prev) {
  const g = document.getElementById('plot-ef');
  const w = 135.5, right = left + w;
  const yTop = top, yBot = top + 97, pTop = top + 111, pBot = top + 160.4;
  const cx = i => left + 24 + i * 43.67;
  const ys = scale(yMin, yMax, yBot, yTop);
  const ps = scale(0, 1, pBot, pTop);
  categories.forEach((c, i) => {
    el(g, 'line', {x1:cx(i), x2:cx(i), y1:yTop, y2:yBot, stroke:GRID, 'stroke-width':1}, prefix + '-x-grid');
    el(g, 'line', {x1:cx(i), x2:cx(i), y1:pTop, y2:pBot, stroke:GRID, 'stroke-width':1}, prefix + '-x-grid');
    el(g, 'line', {x1:cx(i), x2:cx(i), y1:pBot, y2:pBot + 2.8, stroke:TICK, 'stroke-width':.8}, prefix + '-x-tick');
    el(g, 'text', {x:cx(i), y:pBot + 14, 'text-anchor':'middle', style:'font-size:9.1px;fill:' + TXT}, prefix + '-x-tick-label', c);
  });
  yAxis(g, ys, ticks, ticks.map(String), left, right, left - 5, prefix + '-abundance', true, 9.1);
  yAxis(g, ps, prevTicks, prevLabels, left, right, left - 5, prefix + '-prevalence', true, 9.1);
  boxes.forEach((b, i) => {
    const x = cx(i);
    el(g, 'rect', {x:x - 17.5, y:ys(b[2]), width:35, height:Math.max(.5, ys(b[0]) - ys(b[2])), fill:COLORS[i], 'fill-opacity':.5}, prefix + '-box-' + categories[i].toLowerCase());
    el(g, 'line', {x1:x, x2:x, y1:ys(b[2]), y2:ys(b[3]), stroke:'#444', 'stroke-width':1}, prefix + '-whisker-' + categories[i].toLowerCase());
    el(g, 'line', {x1:x - 17.5, x2:x + 17.5, y1:ys(b[1]), y2:ys(b[1]), stroke:'#222', 'stroke-width':1.2}, prefix + '-median-' + categories[i].toLowerCase());
  });
  groups.forEach((pts, i) => {
    pts.forEach(p => {
      el(g, 'circle', {cx:cx(i) + p[0] * 43.67, cy:ys(p[1]), r:2.55, fill:COLORS[i]}, prefix + '-point-' + categories[i].toLowerCase());
    });
  });
  prev.forEach((v, i) => {
    el(g, 'rect', {x:cx(i) - 17.5, y:ps(v), width:35, height:ps(0) - ps(v), fill:COLORS[i]}, prefix + '-prevalence-bar-' + categories[i].toLowerCase());
  });
  border(g, left, yTop, right, yBot, prefix + '-abundance-frame');
  border(g, left, pTop, right, pBot, prefix + '-prevalence-frame');
}
abundancePanel('blautia', 400, 457.3, -.234, 5.44, blautiaTicks, [blautiaLower, blautiaMid, blautiaUpper], blautiaBox, blautiaPrev);
abundancePanel('bifido', 581, 457.3, -1.36, 31.7, bifidoTicks, [bifidoLower, bifidoMid, bifidoUpper], bifidoBox, bifidoPrev);
abundancePanel('kpneumoniae', 762.3, 457.3, -1.39, 32.3, kpTicks, [kpLower, kpMid, kpUpper], kpBox, kpPrev);
abundancePanel('kvariicola', 943.3, 457.3, -.58, 13.54, kvTicks, [kvLower, kvMid, kvUpper], kvBox, kvPrev);
abundancePanel('faecali', 400, 672.3, -.65, 20.5, faecaliTicks, [faecaliLower, faecaliMid, faecaliUpper], faecaliBox, faecaliPrev);
abundancePanel('eubacterium', 581, 672.3, -.26, 6.0, eubTicks, [eubLower, eubMid, eubUpper], eubBox, eubPrev);
abundancePanel('ruminococcus', 762.3, 672.3, -1.3, 30.3, rgTicks, [rgLower, rgMid, rgUpper], rgBox, rgPrev);
abundancePanel('bovatus', 943.3, 672.3, -1.95, 45.4, boTicks, [boLower, boMid, boUpper], boBox, boPrev);
</script>
</body>
</html>
